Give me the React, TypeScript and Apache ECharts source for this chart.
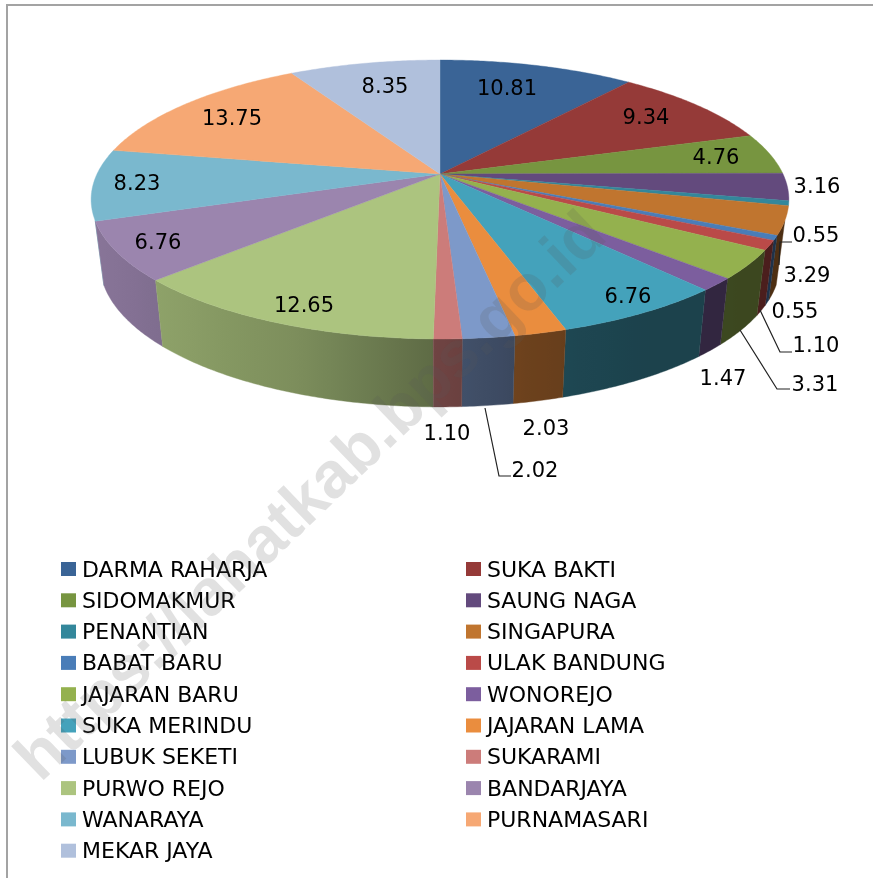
import React, { useEffect, useRef } from "react";
import * as echarts from "echarts";

const districts = [
  "DARMA RAHARJA", "SUKA BAKTI", "SIDOMAKMUR", "SAUNG NAGA", "PENANTIAN", "SINGAPURA", "BABAT BARU",
  "ULAK BANDUNG", "JAJARAN BARU", "WONOREJO", "SUKA MERINDU", "JAJARAN LAMA", "LUBUK SEKETI", "SUKARAMI",
  "PURWO REJO", "BANDARJAYA", "WANARAYA", "PURNAMASARI", "MEKAR JAYA",
];
const shares = [10.81, 9.34, 4.76, 3.16, 0.55, 3.29, 0.55, 1.1, 3.31, 1.47, 6.76, 2.03, 2.02, 1.1, 12.65, 6.76, 8.23, 13.75, 8.35];
const sliceColors = [
  "#3A6496", "#953A38", "#779540", "#634A7D", "#33879B", "#C0752F", "#4A7DB8", "#BA4A48", "#94B14E", "#7C5E9E",
  "#44A2BB", "#EA8D3E", "#7D99C9", "#CC7C7A", "#ACC47F", "#9B85AE", "#7AB8CE", "#F6A874", "#B0C0DC",
];
// Layout only: centre of each value label, in slice order.
const labelCentres = [
  [507, 88], [646, 117], [716, 157], [817, 186], [816, 235], [807, 275], [795, 311], [816, 345], [815, 384], [723, 378],
  [628, 296], [546, 428], [535, 470], [447, 433], [304, 305], [158, 242], [137, 183], [232, 118], [385, 86],
];
const leaderLines = [
  [[779, 265], [780, 242], [792, 242]],
  [[760, 310], [780, 352], [792, 352]],
  [[740, 330], [777, 389], [790, 389]],
  [[485, 408], [499, 476], [511, 476]],
];

// Perspective disc: maps a true angle around the pie onto the picture.
const APEX_X = 440, APEX_Y = 174, A = 343, B = 134.8, K = -0.1828;
const BOTTOM_SCALE_X = 0.975, BOTTOM_SCALE_Y = 1.03, DEPTH = 63;
const WALL_FROM = (109 * Math.PI) / 180, WALL_TO = (251 * Math.PI) / 180;
const LABEL_FONT = '21px "DejaVu Sans"';

const total = shares.reduce((a, b) => a + b, 0);
const starts: number[] = [];
shares.reduce((acc, v, i) => { starts[i] = acc; return acc + v; }, 0);
const angle = (share: number) => (share / total) * Math.PI * 2;

function topPoint(t: number) {
  const x = Math.sin(t), y = -Math.cos(t), d = 1 + K * y;
  return [APEX_X + (A * x) / d, APEX_Y + (B * y) / d];
}
function bottomPoint(t: number) {
  const [X, Y] = topPoint(t);
  return [APEX_X + BOTTOM_SCALE_X * (X - APEX_X), APEX_Y + DEPTH + BOTTOM_SCALE_Y * (Y - APEX_Y)];
}
function arc(a0: number, a1: number, f: (t: number) => number[]) {
  const n = Math.max(2, Math.ceil((a1 - a0) / 0.01));
  const pts: number[][] = [];
  for (let i = 0; i <= n; i++) pts.push(f(a0 + ((a1 - a0) * i) / n));
  return pts;
}

const shadeStops = [[90, 0.88], [165, 0.82], [300, 0.72], [430, 0.55], [530, 0.46], [630, 0.41], [800, 0.4]];
function shadeAt(x: number) {
  if (x <= shadeStops[0][0]) return shadeStops[0][1];
  for (let i = 1; i < shadeStops.length; i++) {
    if (x <= shadeStops[i][0]) {
      const [x0, s0] = shadeStops[i - 1], [x1, s1] = shadeStops[i];
      return s0 + ((s1 - s0) * (x - x0)) / (x1 - x0);
    }
  }
  return shadeStops[shadeStops.length - 1][1];
}
function shaded(hex: string, s: number) {
  const n = parseInt(hex.slice(1), 16);
  return `rgb(${Math.round(((n >> 16) & 255) * s)},${Math.round(((n >> 8) & 255) * s)},${Math.round((n & 255) * s)})`;
}
function sideGradient(color: string, x0: number, x1: number) {
  const stops = [];
  for (let i = 0; i <= 8; i++) {
    stops.push({ offset: i / 8, color: shaded(color, shadeAt(x0 + ((x1 - x0) * i) / 8)) });
  }
  return { type: "linear", x: x0, y: 0, x2: x1, y2: 0, global: true, colorStops: stops };
}

// Back-to-front order for the side walls.
const sideOrder = shares
  .map((_, i) => i)
  .sort((p, q) => {
    const my = (i: number) => topPoint(angle(starts[i] + shares[i] / 2))[1];
    return my(p) - my(q);
  });

function buildOption() {
  const series: any[] = [
    {
      type: "custom",
      name: "side walls",
      coordinateSystem: "none",
      silent: true,
      z: 2,
      data: sideOrder.map((i) => [i, shares[i]]),
      renderItem: (_: any, api: any) => {
        const i = api.value(0);
        const a0 = Math.max(angle(starts[i]), WALL_FROM);
        const a1 = Math.min(angle(starts[i]) + angle(api.value(1)), WALL_TO);
        if (a1 <= a0) return null;
        const top = arc(a0, a1, topPoint);
        const bottom = arc(a0, a1, bottomPoint).reverse();
        const points = top.concat(bottom);
        const xs = points.map((p) => p[0]);
        const fill = sideGradient(sliceColors[i], Math.min(...xs), Math.max(...xs) + 0.01);
        return { type: "polygon", shape: { points }, style: { fill, stroke: fill, lineWidth: 0.4 } };
      },
    },
  ];
  districts.forEach((name, i) => {
    series.push({
      type: "custom",
      name,
      coordinateSystem: "none",
      silent: true,
      z: 3,
      itemStyle: { color: sliceColors[i] },
      data: [[shares[i]]],
      renderItem: (_: any, api: any) => {
        const a0 = angle(starts[i]);
        const a1 = a0 + angle(api.value(0));
        const points = [[APEX_X, APEX_Y], ...arc(a0, a1, topPoint)];
        return { type: "polygon", shape: { points }, style: { fill: sliceColors[i], stroke: sliceColors[i], lineWidth: 0.4 } };
      },
    });
  });
  series.push({
    type: "custom",
    name: "leader lines",
    coordinateSystem: "none",
    silent: true,
    z: 4,
    data: leaderLines.map((_, i) => [i]),
    renderItem: (_: any, api: any) => ({
      type: "polyline",
      shape: { points: leaderLines[api.value(0)] },
      style: { stroke: "#222", lineWidth: 1.2, fill: "none" },
    }),
  });
  series.push({
    type: "custom",
    name: "value labels",
    coordinateSystem: "none",
    silent: true,
    z: 5,
    data: shares.map((v, i) => [v, i]),
    renderItem: (_: any, api: any) => {
      const [x, y] = labelCentres[api.value(1)];
      return {
        type: "text",
        style: { text: api.value(0).toFixed(2), x, y, font: LABEL_FONT, fill: "#000", align: "center", verticalAlign: "middle" },
      };
    },
  });

  const legendBase = {
    orient: "vertical",
    selectedMode: false,
    icon: "rect",
    itemWidth: 15,
    itemHeight: 14,
    itemGap: 9.3,
    padding: 0,
    textStyle: { fontFamily: "DejaVu Sans", fontSize: 22, color: "#000", lineHeight: 22, padding: [0, 0, 0, 1] },
  };

  return {
    animation: false,
    backgroundColor: "#fff",
    legend: [
      { ...legendBase, left: 61, top: 558, data: districts.filter((_, i) => i % 2 === 0) },
      { ...legendBase, left: 466, top: 558, data: districts.filter((_, i) => i % 2 === 1) },
    ],
    series,
    graphic: [
      { type: "polyline", z: 50, shape: { points: [[873, 5], [7, 5], [7, 878]] }, style: { stroke: "#a3a3a3", lineWidth: 2, fill: "none" } },
      {
        type: "text",
        z: 60,
        x: 25,
        y: 767,
        rotation: (43.8 * Math.PI) / 180,
        silent: true,
        style: {
          text: "https://lahatkab.bps.go.id",
          font: 'bold 65px "Liberation Sans"',
          fill: "rgba(90,90,90,0.18)",
          align: "left",
          verticalAlign: "middle",
        },
      },
    ],
  };
}

export default function App() {
  const ref = useRef<HTMLDivElement>(null);
  useEffect(() => {
    document.body.style.margin = "0";
    const chart = echarts.init(ref.current!, undefined, { renderer: "svg" });
    chart.setOption(buildOption() as any);
    return () => chart.dispose();
  }, []);
  return <div ref={ref} style={{ width: 873, height: 878, display: "block", filter: "blur(0.4px)" }} />;
}
